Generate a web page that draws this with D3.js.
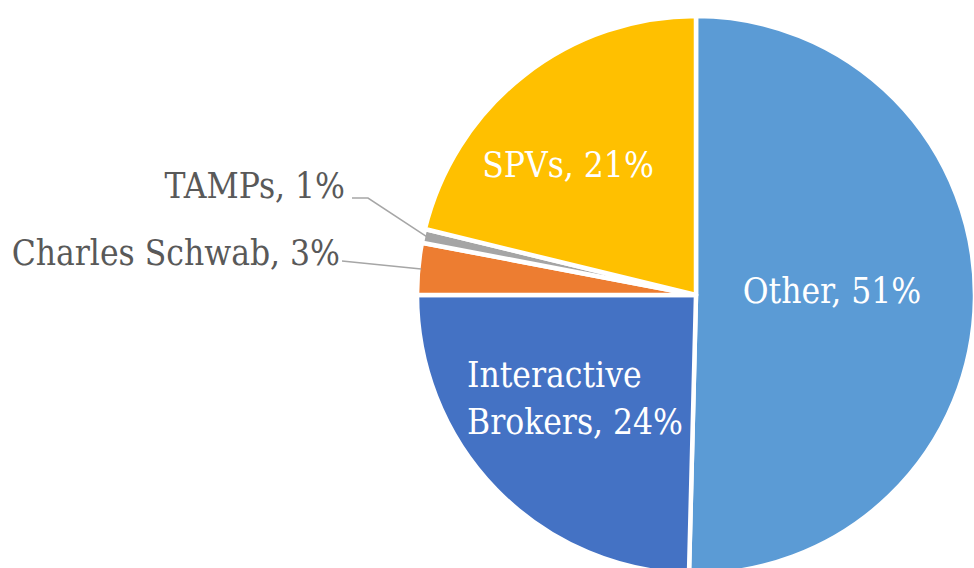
<!DOCTYPE html>
<html lang="en">
<head>
<meta charset="utf-8">
<title>Pie</title>
<script src="https://d3js.org/d3.v7.min.js"></script>
<style>
  body { margin: 0; background: #fff; }
  text { font-family: "DejaVu Serif Condensed", "DejaVu Serif", serif; font-stretch: condensed; }
</style>
</head>
<body>
<script>
// slices, clockwise from 12 o'clock
var names = ["Other", "Interactive Brokers", "Charles Schwab", "TAMPs", "SPVs"];
var shares = [50.4, 24.6, 3.0, 0.8, 21.2];
var pctLabels = ["51%", "24%", "3%", "1%", "21%"];
var colors = ["#5B9BD5", "#4472C4", "#ED7D31", "#A5A5A5", "#FFC000"];

var W = 974, H = 568;
var cx = 696, cy = 295, R = 279;
var fs = 35;

var svg = d3.select("body").append("svg")
  .attr("width", W).attr("height", H);

var g = svg.append("g").attr("transform", "translate(" + cx + "," + cy + ")");

var pie = d3.pie().sort(null).value(function (d) { return d; });
var arcs = pie(shares);
var arc = d3.arc().innerRadius(0).outerRadius(R);

g.selectAll("path.slice")
  .data(arcs)
  .enter().append("path")
  .attr("class", "slice")
  .attr("d", arc)
  .attr("fill", function (d, i) { return colors[i]; })
  .attr("stroke", "#fff")
  .attr("stroke-width", 4.5)
  .attr("stroke-linejoin", "round");

// label layout, relative to pie centre
var lab = [
  { inside: true, x: 136, y: 8, anchor: "middle" },
  { inside: true, x: -229, y: 92, anchor: "start", lines: ["Interactive", "Brokers, 24%"], lh: 47 },
  { inside: false, x: -356, y: -30, lx: -354, ly: -34 },
  { inside: false, x: -351, y: -97, lx: -344, ly: -97, bend: -328 },
  { inside: true, x: -128, y: -118, anchor: "middle" }
];

function pt(a, r) { return [Math.sin(a) * r, -Math.cos(a) * r]; }

arcs.forEach(function (d, i) {
  var L = lab[i];
  var mid = (d.startAngle + d.endAngle) / 2;
  var label = names[i] + ", " + pctLabels[i];
  if (L.inside) {
    var t = g.append("text")
      .attr("fill", "#fff")
      .attr("font-size", fs)
      .attr("text-anchor", L.anchor)
      .attr("x", L.x)
      .attr("y", L.y);
    var lines = L.lines || [label];
    lines.forEach(function (s, k) {
      t.append("tspan").attr("x", L.x).attr("dy", k === 0 ? 0 : L.lh).text(s);
    });
  } else {
    var e = pt(mid, R - 3);
    var pts = [[L.lx, L.ly]];
    if (L.bend) pts.push([L.bend, L.ly]);
    pts.push(e);
    g.append("path")
      .attr("d", d3.line()(pts))
      .attr("fill", "none")
      .attr("stroke", "#A6A6A6")
      .attr("stroke-width", 1.5);
    g.append("text")
      .attr("fill", "#595959")
      .attr("font-size", fs)
      .attr("text-anchor", "end")
      .attr("x", L.x)
      .attr("y", L.y)
      .text(label);
  }
});
</script>
</body>
</html>
